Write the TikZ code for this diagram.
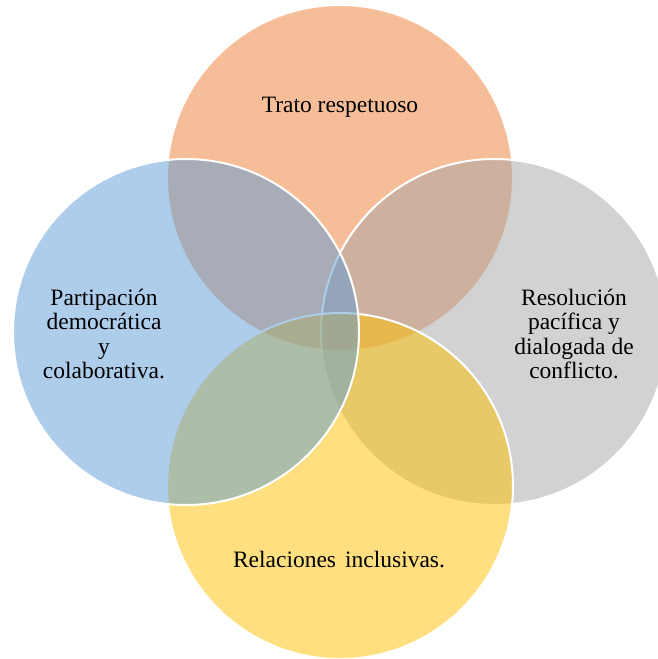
\documentclass[tikz,border=0pt]{standalone}
\usepackage{fontspec}
\setmainfont{Liberation Serif}
\usepackage{xcolor}
\usepackage{tikz}
\usetikzlibrary{shapes,arrows,positioning,calc}

\definecolor{orangeA}{HTML}{ED7D31}
\definecolor{grayA}{HTML}{A5A5A5}
\definecolor{yellowA}{HTML}{FFC000}
\definecolor{blueA}{HTML}{5B9BD5}

\begin{document}
\begin{tikzpicture}[x=1pt, y=-1pt,
    venn/.style={draw=white, line width=2pt, circle, minimum size=346pt, inner sep=0pt, fill opacity=0.5},
    label/.style={align=center, font=\fontsize{23.5}{24.5}\selectfont}]
    \useasboundingbox (0,0) rectangle (657,659);

    % circles, back to front
    \node[venn, fill=orangeA] (trato) at (340,178) {};
    \node[venn, fill=grayA] (resol) at (494,332) {};
    \node[venn, fill=yellowA] (relac) at (340,486) {};
    \node[venn, fill=blueA] (parti) at (186,332) {};

    % texts
    \node[label, anchor=base] (ttrato) at (340,112) {Trato respetuoso};
    \node[label] (tresol) at (574,334) {Resolución\\pacífica y\\dialogada de\\conflicto.};
    \node[label, anchor=base] (trelac) at (339,567) {Relaciones\hspace{9pt}inclusivas.};
    \node[label] (tparti) at (104,334) {Partipación\\democrática\\y\\colaborativa.};
\end{tikzpicture}
\end{document}
